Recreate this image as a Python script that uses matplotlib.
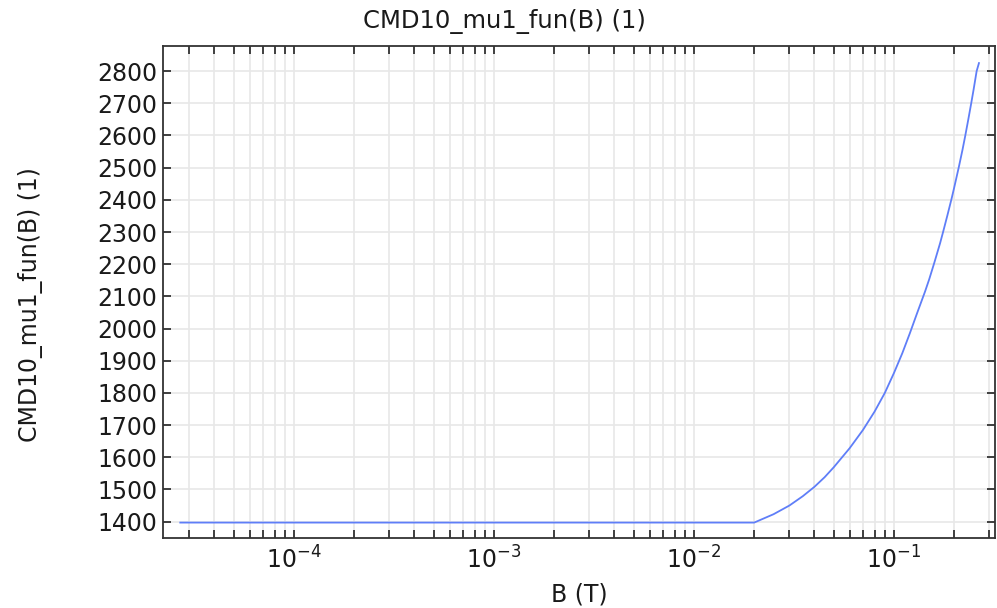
import numpy as np
import matplotlib
matplotlib.use('Agg')
import matplotlib.pyplot as plt
from matplotlib.ticker import LogLocator, MultipleLocator

# values
B = [2.7e-5, 0.02, 0.025, 0.03, 0.035, 0.04, 0.045, 0.05, 0.06, 0.07,
     0.08, 0.09, 0.1, 0.11, 0.12, 0.13, 0.143, 0.15, 0.159, 0.17,
     0.176, 0.185, 0.194, 0.2, 0.211, 0.22, 0.227, 0.235, 0.243, 0.25,
     0.259, 0.266]
mu = [1397, 1397, 1423, 1450, 1479, 1508, 1538, 1569, 1628, 1685,
      1742, 1800, 1862, 1923, 1985, 2045, 2115, 2153, 2204, 2265,
      2300, 2352, 2403, 2438, 2502, 2555, 2598, 2648, 2698, 2742,
      2800, 2825]

fig = plt.figure(figsize=(9.97, 6.08), dpi=100)
ax = fig.add_axes([0.1635, 0.1151, 0.8345, 0.8092])

ax.plot(B, mu, color='#5f7ef8', lw=1.3)

ax.set_xscale('log')
ax.set_xlim(2.213e-5, 0.32)
ax.set_ylim(1349, 2878)

ax.yaxis.set_major_locator(MultipleLocator(100))
ax.xaxis.set_major_locator(LogLocator(base=10, numticks=20))
ax.xaxis.set_minor_locator(LogLocator(base=10, subs=np.arange(2, 10), numticks=100))

ax.grid(True, which='both', color='#e8e8e8', lw=1.2)
ax.set_axisbelow(True)

ax.tick_params(which='both', direction='in', length=6, width=1.2,
               top=True, right=True, color='#222222', labelsize=17,
               labelcolor='#1a1a1a')
ax.tick_params(axis='x', pad=6)
ax.tick_params(axis='y', pad=4)
for s in ax.spines.values():
    s.set_linewidth(1.3)
    s.set_color('#333333')

fig.text(0.5055, 1 - 22 / 608, 'CMD10_mu1_fun(B) (1)', fontsize=17.5,
         ha='center', va='center', color='#1a1a1a')
ax.set_xlabel('B (T)', fontsize=17, color='#1a1a1a', va='center')
ax.set_ylabel('CMD10_mu1_fun(B) (1)', fontsize=17, color='#1a1a1a', va='center')
ax.xaxis.set_label_coords(0.5, -0.114)
ax.yaxis.set_label_coords(-0.159, 0.474)

fig.savefig('out.png', dpi=100)
